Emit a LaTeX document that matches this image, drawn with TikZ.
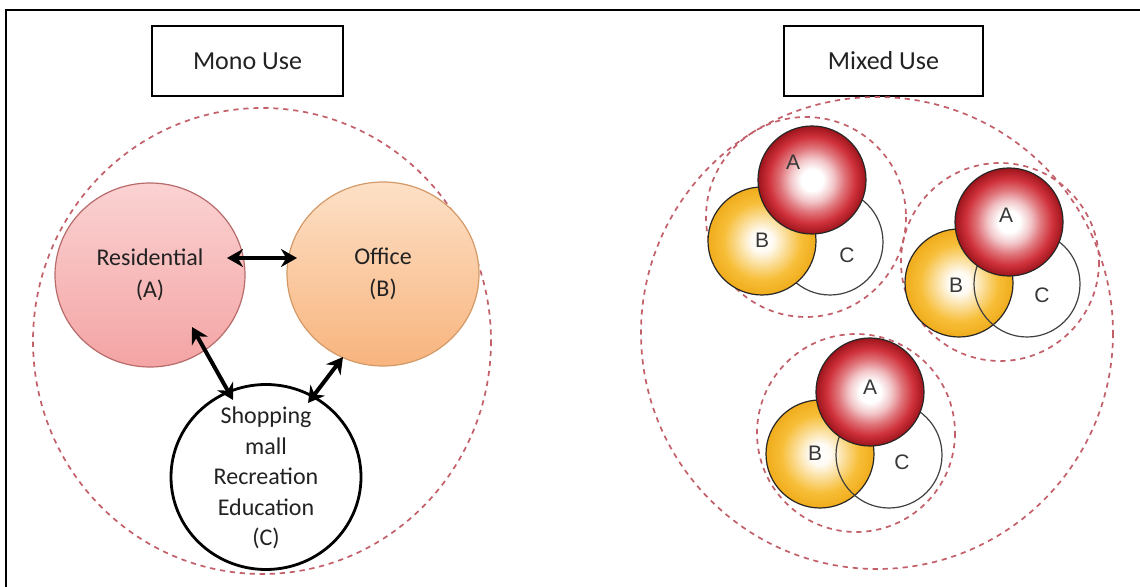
\documentclass[tikz,border=0pt]{standalone}
\usepackage{fontspec}
\setmainfont{Carlito}
\newfontfamily\lettfont{Liberation Sans}
\usetikzlibrary{shapes.geometric,arrows.meta,calc}
\definecolor{redmid}{HTML}{D0323B}
\definecolor{reddark}{HTML}{9E141C}
\definecolor{yelmid}{HTML}{F7BE38}
\definecolor{yeldark}{HTML}{F0AC1C}
\definecolor{rosedash}{HTML}{C25F69}
\definecolor{resTop}{HTML}{FBD2D2}
\definecolor{resBot}{HTML}{F4A4A4}
\definecolor{resLine}{HTML}{B86B6B}
\definecolor{offTop}{HTML}{FDE0C6}
\definecolor{offBot}{HTML}{F8B47E}
\definecolor{offLine}{HTML}{D39A68}
\definecolor{txt}{HTML}{222222}
\pgfdeclareradialshading{redball}{\pgfpoint{0bp}{0bp}}{color(0bp)=(white); color(5bp)=(white); color(10bp)=(white!72!redmid); color(15bp)=(white!32!redmid); color(20bp)=(redmid); color(25bp)=(reddark); color(50bp)=(reddark)}
\pgfdeclareradialshading{yelball}{\pgfpoint{0bp}{0bp}}{color(0bp)=(white); color(5bp)=(white!94!yelmid); color(11bp)=(white!50!yelmid); color(18bp)=(yelmid); color(25bp)=(yeldark); color(50bp)=(yeldark)}
\tikzset{
  titlebox/.style={draw=black, line width=1pt, fill=white, minimum height=35pt, inner sep=0pt, font=\fontsize{13}{15}\selectfont, text=txt},
  bigdash/.style={draw=rosedash, line width=0.85pt, dash pattern=on 2.6pt off 2.4pt},
  usecircle/.style={ellipse, inner sep=0pt, shading=axis},
  usetext/.style={align=center, text=txt, inner sep=0pt, font=\fontsize{12}{16}\selectfont},
  dbl/.style={{Stealth[length=8pt,width=9pt]}-{Stealth[length=8pt,width=9pt]}, line width=2pt, black},
  aball/.style={circle, minimum size=54pt, inner sep=0pt, draw=black!85, line width=0.6pt, shading=redball},
  bball/.style={circle, minimum size=54pt, inner sep=0pt, draw=black!85, line width=0.6pt, shading=yelball},
  cfill/.style={circle, minimum size=53pt, inner sep=0pt, fill=white},
  cline/.style={circle, minimum size=53pt, inner sep=0pt, draw=black!75, line width=0.6pt},
  lett/.style={font=\lettfont\fontsize{10.5}{11}\selectfont, text=black!78, inner sep=0pt}
}
\begin{document}
\begin{tikzpicture}[x=0.5pt, y=-0.5pt]
\useasboundingbox (0,0) rectangle (1140,587);
\clip (0,0) rectangle (1140,587);
\fill[white] (0,0) rectangle (1140,587);
\draw[line width=1pt, black] (6,10) rectangle (1160,600);
% ---------- Mono use ----------
\node[titlebox, minimum width=95.5pt] (mono) at (247.5,61) {Mono Use};
\draw[bigdash] (262,341) ellipse [x radius=229, y radius=233];
\node[usecircle, minimum width=95pt, minimum height=92pt, top color=resTop, bottom color=resBot, draw=resLine, line width=0.6pt] (res) at (150,275) {};
\node[usetext] (restxt) at (res.center) {Residential\\(A)};
\node[usecircle, minimum width=96pt, minimum height=92pt, top color=offTop, bottom color=offBot, draw=offLine, line width=0.6pt] (off) at (383,274) {};
\node[usetext] (offtxt) at (off.center) {Office\\(B)};
\node[ellipse, minimum width=95pt, minimum height=92.5pt, inner sep=0pt, draw=black, line width=1.4pt, fill=white] (shop) at (266,477) {};
\node[usetext, font=\fontsize{12}{15.2}\selectfont] (shoptxt) at ($(shop.center)+(0,1)$) {Shopping\\mall\\Recreation\\Education\\(C)};
\draw[dbl] ($(res.center)+(77,-17)$) -- ($(off.center)+(-86,-16)$);
\draw[dbl] ($(res.center)+(42,52)$) -- ($(shop.center)+(-33,-77)$);
\draw[dbl] ($(off.center)+(-40,83)$) -- ($(shop.center)+(42,-74)$);
% ---------- Mixed use ----------
\node[titlebox, minimum width=99.5pt] (mixed) at (883.5,61) {Mixed Use};
\draw[bigdash] (877,333) circle [radius=236];
% group 1
\draw[bigdash] (806,217) circle [radius=100];
\node[cfill] (c1f) at (830,242) {};
\node[cline] (c1) at (830,242) {};
\node[bball] (b1) at (762,241) {};
\node[aball] (a1) at (812,180) {};
\node[lett] (la1) at (793,162) {A};
\node[lett] (lb1) at (762,240) {B};
\node[lett] (lc1) at (847,255) {C};
% group 2
\draw[bigdash] (1000,262) circle [radius=99];
\node[cfill] (c2f) at (1027,284) {};
\node[bball] (b2) at (959,283) {};
\node[cline] (c2) at (1027,284) {};
\node[aball] (a2) at (1009,222) {};
\node[lett] (la2) at (1006,215) {A};
\node[lett] (lb2) at (956,285) {B};
\node[lett] (lc2) at (1042,295) {C};
% group 3
\draw[bigdash] (856,433) circle [radius=99];
\node[cfill] (c3f) at (889,455) {};
\node[bball] (b3) at (820,454) {};
\node[cline] (c3) at (889,455) {};
\node[aball] (a3) at (870,392) {};
\node[lett] (la3) at (870,387) {A};
\node[lett] (lb3) at (815,453) {B};
\node[lett] (lc3) at (902,462) {C};
\end{tikzpicture}
\end{document}
